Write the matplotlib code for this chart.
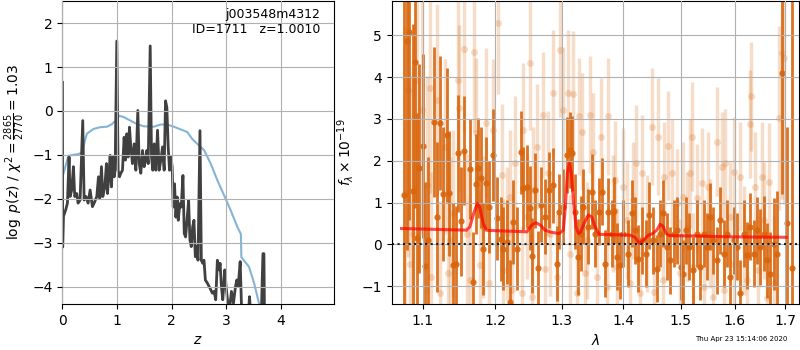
import matplotlib
matplotlib.use('Agg')
import matplotlib.pyplot as plt
from matplotlib.ticker import NullLocator

# left panel: redshift probability / chi2 curves
z_pz = [0.0, 0.005, 0.02, 0.061, 0.092, 0.122, 0.141, 0.171, 0.202, 0.226, 0.263, 0.287, 0.324,
        0.373, 0.398, 0.434, 0.471, 0.508, 0.550, 0.581, 0.630, 0.661, 0.685, 0.716, 0.740,
        0.777, 0.807, 0.826, 0.850, 0.875, 0.899, 0.924, 0.948, 0.966, 0.997, 1.021, 1.046,
        1.070, 1.101, 1.131, 1.156, 1.180, 1.205, 1.229, 1.254, 1.284, 1.315, 1.346, 1.382,
        1.407, 1.437, 1.468, 1.498, 1.529, 1.547, 1.572, 1.609, 1.633, 1.657, 1.682, 1.713,
        1.743, 1.774, 1.804, 1.835, 1.865, 1.890, 1.914, 1.939, 1.963, 1.988, 2.012, 2.031,
        2.055, 2.080, 2.104, 2.123, 2.153, 2.178, 2.209, 2.233, 2.258, 2.288, 2.313, 2.337,
        2.362, 2.387, 2.411, 2.436, 2.460, 2.485, 2.521, 2.546, 2.571, 2.595, 2.620, 2.656,
        2.706, 2.748, 2.779, 2.810, 2.840, 2.871, 2.890, 2.914, 2.939, 2.975, 3.000, 3.025,
        3.055, 3.098, 3.135, 3.172, 3.196, 3.221, 3.258, 3.282, 3.319, 3.405, 3.429, 3.454,
        3.546, 3.638, 3.675, 3.693, 3.706, 3.75]
logpz = [0.65, -3.1, -2.4, -2.25, -2.10, -1.05, -1.95, -1.80, -1.27, -1.95, -1.88, -2.10, -2.03,
         -0.22, -2.03, -1.95, -2.10, -1.80, -2.18, -2.10, -1.95, -1.50, -1.99, -1.27, -1.95,
         -1.73, -1.20, -1.88, -1.50, -1.01, -1.73, -1.05, -1.50, -1.35, 1.59, -1.35, -1.50,
         -1.42, -1.35, -0.60, -1.12, -0.52, -1.05, -0.37, -0.82, -1.20, -0.75, -1.35, 0.01,
         -1.20, -1.42, -0.90, -1.27, -1.05, -0.90, -1.20, 1.48, -1.05, -1.35, -0.75, -1.35,
         -0.44, -1.35, -1.12, -0.82, -1.35, 0.23, 0.08, -0.82, -1.35, -1.05, -1.28, -2.19,
         -1.66, -2.42, -1.96, -2.49, -2.11, -2.19, -1.47, -2.79, -2.87, -2.42, -2.04, -2.94,
         -3.09, -2.64, -2.49, -3.32, -3.09, -3.40, -0.45, -3.40, -3.47, -3.40, -3.85, -3.92,
         -4.04, -4.15, -4.11, -4.30, -3.40, -3.62, -3.47, -4.00, -4.30, -3.62, -4.00, -4.30,
         -4.60, -4.11, -4.38, -4.00, -3.85, -4.00, -3.43, -4.45, -4.75, -4.68, -4.23, -4.68,
         -5.0, -5.0, -3.25, -3.25, -5.0, -6.0]

z_chi = [0.0, 0.11, 0.30, 0.356, 0.448, 0.571, 0.693, 0.816, 0.908, 0.969, 1.043, 1.123, 1.245,
         1.368, 1.491, 1.675, 1.798, 1.92, 2.043, 2.166, 2.288, 2.38, 2.472, 2.595, 2.718,
         2.84, 2.963, 3.086, 3.209, 3.27, 3.28, 3.42, 3.515, 3.61, 3.70]
chi_scaled = [-1.51, -1.02, -0.98, -0.94, -0.52, -0.41, -0.37, -0.36, -0.30, -0.23, -0.11, -0.14,
              -0.22, -0.30, -0.35, -0.36, -0.31, -0.31, -0.36, -0.42, -0.48, -0.64, -0.75, -0.89,
              -1.20, -1.58, -1.92, -2.27, -2.65, -2.80, -3.33, -3.55, -3.93, -4.42, -5.2]

# right panel: spectrum, two sets of points
lam_dark = [1.0756, 1.0791, 1.0825, 1.0869, 1.0904, 1.0930, 1.0956, 1.1009, 1.1035, 1.1079,
            1.1151, 1.1187, 1.1231, 1.1276, 1.1322, 1.1357, 1.1413, 1.1449, 1.1481, 1.1523,
            1.1564, 1.1643, 1.1681, 1.1723, 1.1761, 1.1794, 1.1832, 1.1870, 1.1908, 1.1975,
            1.2022, 1.2080, 1.2119, 1.2168, 1.2217, 1.2256, 1.2316, 1.2380, 1.2414, 1.2474,
            1.2514, 1.2544, 1.2584, 1.2635, 1.2685, 1.2741, 1.2808, 1.2870, 1.2922, 1.2958,
            1.3026, 1.3089, 1.3131, 1.3168, 1.3210, 1.3263, 1.3300, 1.3343, 1.3418, 1.3477,
            1.3531, 1.3596, 1.3640, 1.3695, 1.3750, 1.3805, 1.3849, 1.3888, 1.3944, 1.4000,
            1.4072, 1.4141, 1.4198, 1.4255, 1.4312, 1.4387, 1.4444, 1.4502, 1.4573, 1.4631,
            1.4690, 1.4761, 1.4808, 1.4868, 1.4927, 1.4999, 1.5047, 1.5096, 1.5156, 1.5229,
            1.5290, 1.5351, 1.5425, 1.5487, 1.5536, 1.5599, 1.5662, 1.5725, 1.5788, 1.5852,
            1.5903, 1.5980, 1.6044, 1.6108, 1.6173, 1.6238, 1.6303, 1.6368, 1.6434, 1.6500,
            1.6566, 1.6632, 1.6699, 1.6766, 1.6833, 1.6935, 1.7035, 1.7139]
flux_dark = [1.18, 4.86, 5.08, 1.28, 4.36, 0.15, 1.82, 2.36, -0.51, 0.10,
             2.93, 0.65, 2.90, 1.20, 2.61, 1.22, -0.50, -0.47, 2.18, 0.55,
             2.24, 1.80, -0.90, 1.45, 1.82, 1.60, -0.10, 1.46, 0.90, 2.14,
             0.62, 0.13, -0.10, 0.05, -1.37, 0.54, -0.10, 2.20, 1.34, 1.38,
             0.87, -0.27, 1.29, -0.57, 0.95, 0.66, 1.30, 1.41, -0.46, 0.78,
             0.90, 2.14, 2.26, 2.18, 0.78, -0.30, 0.26, 0.90, 0.42, 1.26,
             0.26, 0.78, 1.26, -0.46, 0.78, 0.26, 0.81, -0.30, -0.50, 0.26,
             -0.22, 0.74, 0.34, -0.34, 0.10, -0.22, 0.70, 0.10, -0.58, 0.26,
             0.74, -0.06, -0.38, 0.26, 0.34, -0.54, -0.70, 0.34, -0.06, -0.62,
             0.26, -0.54, 0.26, -0.06, 0.66, 0.10, -0.38, 0.58, -0.22, 0.26,
             -0.78, 0.10, -0.06, -1.17, 0.26, -0.26, 0.42, -0.22, 0.34, -0.06,
             0.26, -0.38, -0.70, 0.02, -0.22, 4.10, 0.50, -0.56]
err_dark = [5.0, 5.0, 4.5, 4.0, 3.5, 3.0, 2.5, 2.2, 2.0, 2.0,
            1.8, 1.8, 1.6, 1.6, 1.6, 1.5, 1.5, 1.4, 1.4, 1.3,
            1.3, 1.2, 1.2, 1.2, 1.2, 1.2, 1.1, 1.1, 1.1, 1.1,
            1.0, 1.0, 1.0, 1.0, 1.0, 1.0, 1.0, 1.0, 1.0, 1.0,
            1.0, 0.9, 0.9, 0.9, 0.9, 0.9, 0.9, 0.9, 0.9, 0.9,
            0.9, 0.9, 0.9, 0.9, 0.9, 0.9, 0.9, 0.9, 0.9, 0.9,
            0.8, 0.8, 0.8, 0.8, 0.8, 0.8, 0.8, 0.8, 0.8, 0.8,
            0.8, 0.8, 0.8, 0.8, 0.8, 0.8, 0.8, 0.8, 0.8, 0.8,
            0.8, 0.8, 0.8, 0.8, 0.8, 0.8, 0.8, 0.8, 0.8, 0.8,
            0.8, 0.8, 0.8, 0.8, 0.8, 0.8, 0.8, 0.8, 0.8, 0.8,
            0.8, 0.8, 0.8, 0.8, 0.8, 0.8, 0.8, 0.8, 0.8, 0.9,
            0.9, 0.9, 1.0, 1.1, 1.5, 2.9, 2.3, 8.0]

lam_light = [1.0768, 1.0812, 1.0834, 1.0879, 1.0930, 1.0987, 1.1053, 1.1097, 1.1119, 1.1187,
             1.1231, 1.1297, 1.1342, 1.1367, 1.1413, 1.1481, 1.1494, 1.1564, 1.1597, 1.1643,
             1.1701, 1.1735, 1.1780, 1.1832, 1.1875, 1.1918, 1.1975, 1.2046, 1.2094, 1.2119,
             1.2168, 1.2217, 1.2241, 1.2290, 1.2390, 1.2414, 1.2464, 1.2514, 1.2539, 1.2564,
             1.2625, 1.2715, 1.2741, 1.2791, 1.2817, 1.2870, 1.2922, 1.2973, 1.3026, 1.3104,
             1.3131, 1.3184, 1.3237, 1.3279, 1.3327, 1.3370, 1.3397, 1.3450, 1.3504, 1.3559,
             1.3624, 1.3723, 1.3750, 1.3833, 1.3861, 1.3899, 1.4000, 1.4055, 1.4113, 1.4170,
             1.4215, 1.4284, 1.4324, 1.4398, 1.4485, 1.4526, 1.4602, 1.4690, 1.4708, 1.4779,
             1.4850, 1.4927, 1.4987, 1.5035, 1.5108, 1.5168, 1.5199, 1.5229, 1.5290, 1.5382,
             1.5425, 1.5505, 1.5536, 1.5599, 1.5662, 1.5757, 1.5801, 1.5820, 1.5918, 1.5980,
             1.5993, 1.6108, 1.6173, 1.6238, 1.6290, 1.6316, 1.6401, 1.6447, 1.6533, 1.6566,
             1.6632, 1.6666, 1.6766, 1.6868, 1.6935, 1.6983]
flux_light = [1.22, 3.70, -0.46, 0.26, 3.94, 3.22, 1.42, 3.74, -0.77, 3.46,
              -1.17, 2.34, -0.69, 0.10, 0.74, 3.94, 3.26, 4.68, 0.26, -0.85,
              4.60, 2.66, -0.50, 0.42, 2.90, -0.93, 2.74, 5.30, 1.66, -0.62,
              0.26, 1.14, -1.09, 1.94, -1.17, 2.74, 0.66, 4.34, -1.25, 1.30,
              2.34, 3.10, -0.58, 1.70, 0.26, 3.62, -0.77, 4.64, 3.22, 3.62,
              -0.22, 3.60, -1.17, 3.06, 2.70, -0.69, 0.10, 3.10, 2.22, -0.77,
              2.58, -1.01, 3.06, 0.74, 1.54, -0.54, 1.38, 0.58, -0.93, 1.06,
              1.94, -1.17, 1.70, 0.26, 2.82, -1.13, 2.58, -0.85, 1.62, 2.36,
              1.70, 0.98, -0.69, 1.14, 0.42, 1.70, 2.58, -0.54, 1.10, 1.48,
              -1.01, 1.38, 0.26, -1.25, 2.46, 1.86, -1.09, 1.94, 0.66, 1.74,
              -0.46, 1.62, 0.10, -0.85, 2.88, 3.54, 1.38, -0.62, 1.62, 0.58,
              -1.29, 1.50, -0.93, 3.02, 4.58, 4.46]
err_light = [4.0, 4.0, 4.5, 4.0, 3.5, 3.0, 2.6, 2.5, 2.5, 2.3,
             2.2, 2.1, 2.1, 2.0, 2.0, 2.0, 2.0, 2.0, 1.9, 1.9,
             1.9, 1.8, 1.8, 1.7, 1.8, 1.7, 1.7, 1.7, 1.7, 1.7,
             1.6, 1.6, 1.6, 1.6, 1.6, 1.6, 1.5, 1.6, 1.5, 1.5,
             1.5, 1.5, 1.5, 1.5, 1.5, 1.5, 1.5, 1.6, 1.5, 1.5,
             1.4, 1.5, 1.4, 1.4, 1.4, 1.4, 1.4, 1.4, 1.4, 1.4,
             1.4, 1.4, 1.4, 1.4, 1.4, 1.4, 1.4, 1.4, 1.4, 1.4,
             1.4, 1.4, 1.4, 1.4, 1.4, 1.4, 1.4, 1.3, 1.3, 1.3,
             1.3, 1.3, 1.3, 1.3, 1.3, 1.3, 1.3, 1.3, 1.3, 1.3,
             1.3, 1.3, 1.3, 1.3, 1.3, 1.3, 1.3, 1.3, 1.3, 1.3,
             1.3, 1.3, 1.3, 1.3, 1.3, 1.3, 1.3, 1.3, 1.3, 1.4,
             1.4, 1.4, 1.6, 2.2, 3.5, 3.5]

lam_model = [1.0726, 1.1597, 1.1643, 1.1697, 1.1748, 1.1780, 1.1832, 1.1875, 1.1975, 1.2469,
             1.2540, 1.2600, 1.2675, 1.2741, 1.2838, 1.2961, 1.3026, 1.3058, 1.3089, 1.3121,
             1.3152, 1.3184, 1.3226, 1.3263, 1.3300, 1.3354, 1.3424, 1.3477, 1.3531, 1.3601,
             1.4113, 1.4198, 1.4272, 1.4341, 1.4427, 1.4502, 1.4573, 1.4631, 1.4678, 1.4737,
             1.4796, 1.5290, 1.5918, 1.7024]
flux_model = [0.38, 0.34, 0.42, 0.74, 0.98, 0.90, 0.50, 0.34, 0.33, 0.30,
              0.46, 0.52, 0.46, 0.34, 0.29, 0.26, 0.34, 0.90, 1.70, 1.94,
              1.70, 1.06, 0.42, 0.26, 0.30, 0.50, 0.70, 0.66, 0.42, 0.24,
              0.22, 0.17, 0.02, 0.10, 0.22, 0.26, 0.34, 0.48, 0.44, 0.26,
              0.21, 0.20, 0.18, 0.17]

lam_ticks = [1.1, 1.2, 1.3, 1.4, 1.5, 1.6, 1.7]

orange = '#d9650c'

fig = plt.figure(figsize=(8, 3.5), dpi=100)
ax1 = fig.add_axes([0.078, 0.131, 0.339, 0.867])
ax2 = fig.add_axes([0.4896, 0.131, 0.5094, 0.867])

# p(z)
ax1.plot(z_chi, chi_scaled, color='#1f77b4', alpha=0.55, lw=1.5)
ax1.plot(z_pz, logpz, color='#404040', lw=2)
ax1.set_xlim(0, 4.97)
ax1.set_ylim(-4.4, 2.51)
ax1.set_xticks([0, 1, 2, 3, 4])
ax1.set_yticks([-4, -3, -2, -1, 0, 1, 2])
ax1.set_axisbelow(False)
ax1.grid()
ax1.set_xlabel('$z$')
ax1.set_ylabel(r'$\log\ p(z)$ / $\chi^2=\frac{2865}{2770}=1.03$')
ax1.text(0.95, 0.975, 'j003548m4312\nID=1711   z=1.0010', transform=ax1.transAxes,
         ha='right', va='top', fontsize=9)

# spectrum
ax2.errorbar(lam_light, flux_light, yerr=err_light, fmt='o', color=orange, alpha=0.22,
             ms=5, mec='none', elinewidth=2.5)
ax2.errorbar(lam_dark, flux_dark, yerr=err_dark, fmt='o', color=orange, alpha=0.9,
             ms=4.5, mec='none', elinewidth=2)
ax2.plot(lam_model, flux_model, color='red', alpha=0.7, lw=2.2, zorder=4)
ax2.axhline(0, color='k', ls=':', lw=1.5, alpha=0.85, zorder=5)
ax2.set_xscale('log')
ax2.set_xlim(1.06, 1.729)
ax2.set_ylim(-1.43, 5.83)
ax2.set_xticks(lam_ticks)
ax2.set_xticklabels([str(t) for t in lam_ticks])
ax2.xaxis.set_minor_locator(NullLocator())
ax2.set_yticks([-1, 0, 1, 2, 3, 4, 5])
ax2.set_axisbelow(False)
ax2.grid()
ax2.set_xlabel(r'$\lambda$')
ax2.set_ylabel(r'$f_\lambda\times10^{-19}$')

fig.text(0.984, 0.031, 'Thu Apr 23 15:14:06 2020', ha='right', va='center', fontsize=5)

fig.savefig('out.png', dpi=100)
